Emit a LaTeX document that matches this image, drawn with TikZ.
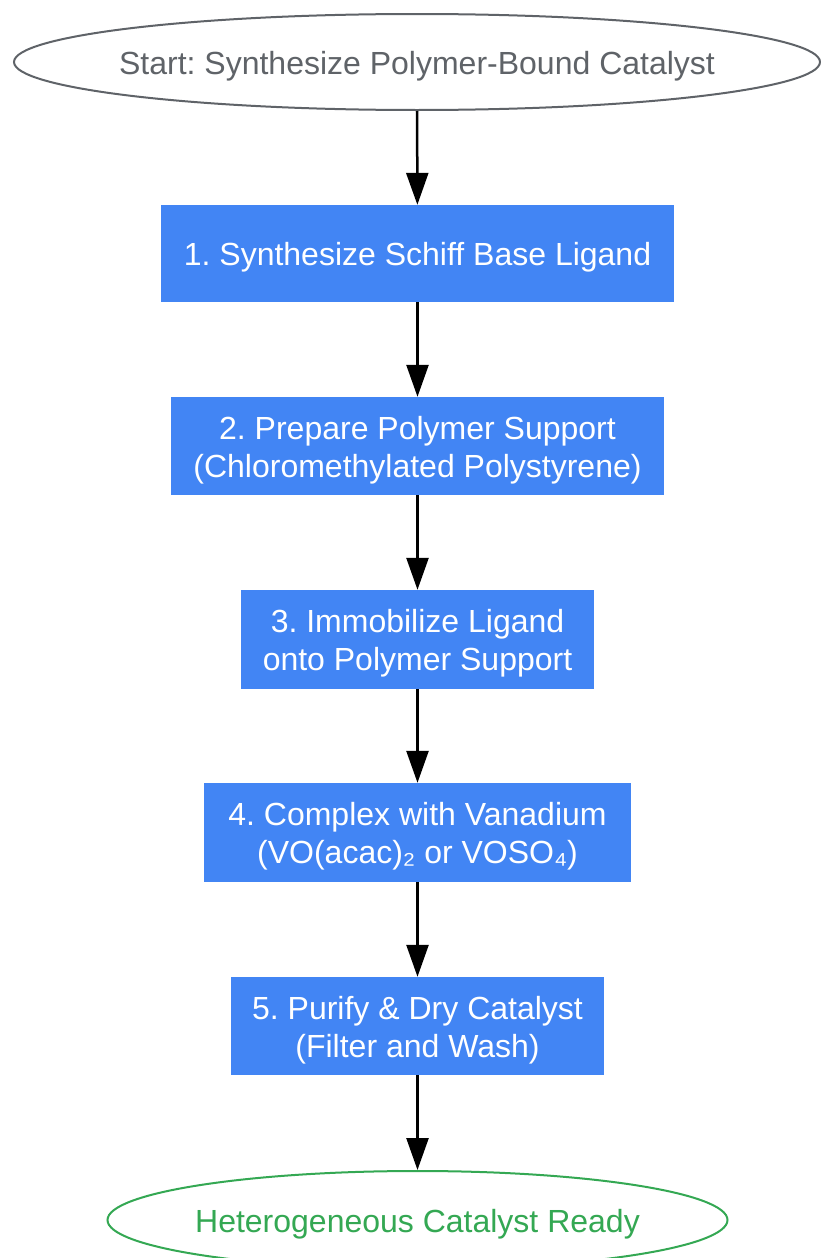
\documentclass[tikz,border=0pt]{standalone}
\usepackage{fontspec}
\setmainfont{Liberation Sans}
\usetikzlibrary{shapes.geometric,arrows.meta}
\definecolor{boxblue}{HTML}{4285F4}
\definecolor{startgray}{HTML}{5F6368}
\definecolor{endgreen}{HTML}{34A853}
\frenchspacing
\tikzset{
  stepbox/.style={rectangle, fill=boxblue, text=white, inner sep=0pt, align=center,
    font=\fontsize{32}{38}\selectfont, text height=31pt},
  twoline/.style={text height=69pt},
  termnode/.style={ellipse, line width=2pt, fill=white, inner ysep=0pt, inner xsep=-15pt, align=center,
    font=\fontsize{32}{38}\selectfont, text height=31pt},
  flow/.style={line width=2.5pt, black, -{Triangle[length=32pt,width=22pt]}}
}
\begin{document}
\begin{tikzpicture}[x=1pt,y=-1pt]
\useasboundingbox (0,0) rectangle (820,1258);
\node[termnode, draw=startgray, text=startgray, minimum width=806pt, minimum height=96pt] (start) at (417,62) {Start: Synthesize Polymer-Bound Catalyst};
\node[stepbox, minimum width=513pt, minimum height=97pt] (s1) at (417.5,253.5) {1. Synthesize Schiff Base Ligand};
\node[stepbox, twoline, minimum width=493pt, minimum height=98pt] (s2) at (417.5,446) {2. Prepare Polymer Support\\(Chloromethylated Polystyrene)};
\node[stepbox, twoline, minimum width=353pt, minimum height=99pt] (s3) at (417.5,639.5) {3. Immobilize Ligand\\onto Polymer Support};
\node[stepbox, twoline, minimum width=427pt, minimum height=99pt] (s4) at (417.5,832.5) {4. Complex with Vanadium\\(VO(acac)₂ or VOSO₄)};
\node[stepbox, twoline, minimum width=373pt, minimum height=98pt] (s5) at (417.5,1026) {5. Purify \& Dry Catalyst\\(Filter and Wash)};
\node[termnode, draw=endgreen, text=endgreen, minimum width=620pt, minimum height=98pt] (end) at (417.5,1220) {Heterogeneous Catalyst Ready};
\draw[flow] (start) -- (s1);
\draw[flow] (s1) -- (s2);
\draw[flow] (s2) -- (s3);
\draw[flow] (s3) -- (s4);
\draw[flow] (s4) -- (s5);
\draw[flow] (s5) -- (end);
\end{tikzpicture}
\end{document}
